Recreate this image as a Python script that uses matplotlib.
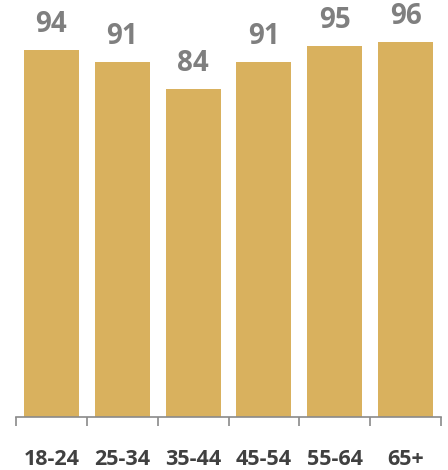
import matplotlib
matplotlib.use("Agg")
import matplotlib.pyplot as plt
import numpy as np

categories = ["18-24", "25-34", "35-44", "45-54", "55-64", "65+"]
values = [94, 91, 84, 91, 95, 96]

bar_color = "#D9B15E"
axis_color = "#8A8A8A"
label_color = "#7F7F7F"
tick_color = "#404040"
font = ["Open Sans", "DejaVu Sans"]

fig = plt.figure(figsize=(4.48, 4.70), dpi=100)
ax = fig.add_axes([16/448, 53/470, (441-16)/448, 417/470])

x = np.arange(len(categories))
ax.bar(x, values, width=0.777, color=bar_color, zorder=2)
ax.set_xlim(-0.5, len(categories) - 0.5)
ax.set_ylim(0, 417/3.905)

for xi, v in zip(x, values):
    ax.annotate(str(v), (xi, v), xytext=(0, 13), textcoords="offset points",
                ha="center", va="baseline", fontsize=20, fontweight="bold",
                color=label_color, family=font)

for s in ["top", "left", "right"]:
    ax.spines[s].set_visible(False)
ax.spines["bottom"].set_color(axis_color)
ax.spines["bottom"].set_linewidth(1.2)
ax.set_yticks([])

ax.set_xticks(np.arange(len(categories) + 1) - 0.5)
ax.set_xticklabels([])
ax.tick_params(axis="x", which="major", length=6.5, width=1.2, color=axis_color, direction="out")
ax.set_xticks(x, minor=True)
ax.set_xticklabels(categories, minor=True, fontsize=15.5, fontweight="bold",
                   color=tick_color, family=font)
ax.tick_params(axis="x", which="minor", length=0, pad=23)

fig.savefig("out.png", dpi=100)
